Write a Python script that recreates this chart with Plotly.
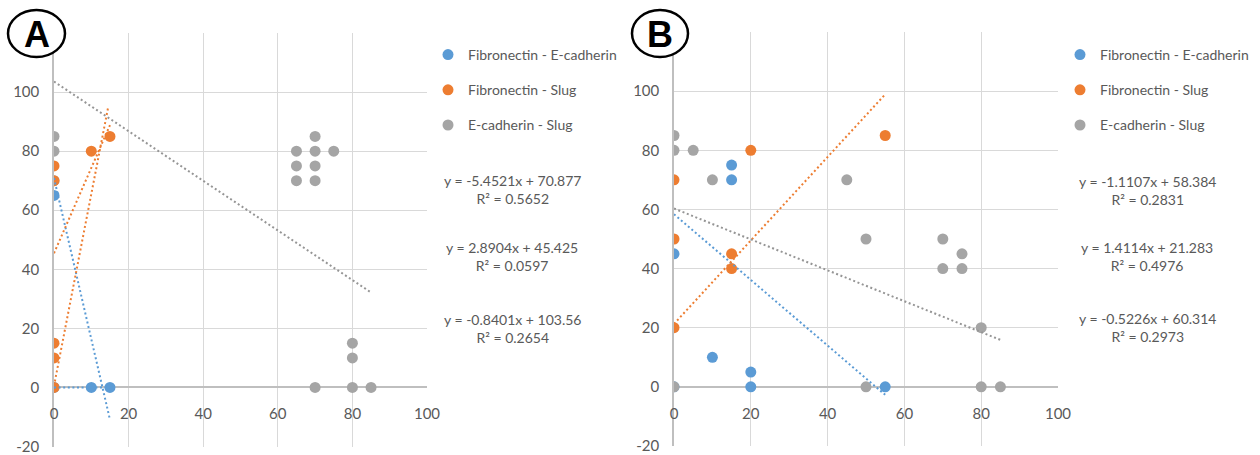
import plotly.graph_objects as go

W, H = 1260, 455

# ---------------- data ----------------
series_names = ["Fibronectin - E-cadherin", "Fibronectin - Slug", "E-cadherin - Slug"]
colors = ["#5B9BD5", "#ED7D31", "#A5A5A5"]
trend_colors = ["#5B9BD5", "#ED7D31", "#959595"]

# Panel A
a_fe_x = [0, 0, 10, 15]
a_fe_y = [65, 0, 0, 0]
a_fs_x = [0, 0, 0, 0, 0, 10, 15]
a_fs_y = [75, 70, 15, 10, 0, 80, 85]
a_es_x = [0, 0, 0, 65, 65, 65, 70, 70, 70, 70, 75, 70, 80, 80, 80, 85]
a_es_y = [85, 80, 70, 80, 75, 70, 85, 80, 75, 70, 80, 0, 15, 10, 0, 0]
a_slopes = [-5.4521, 2.8904, -0.8401]
a_intercepts = [70.877, 45.425, 103.56]
a_r2 = [0.5652, 0.0597, 0.2654]
# additional dotted lines visible in panel A (series index, slope, intercept, x span)
a_extra = [
    (0, 0.0, 0.0, 0, 15),     # blue, along y = 0
    (1, 6.5, 0.5, 0, 14.5),   # orange, steep
]

# Panel B
b_fe_x = [0, 15, 15, 0, 10, 20, 20, 55]
b_fe_y = [0, 75, 70, 45, 10, 5, 0, 0]
b_fs_x = [0, 0, 0, 15, 15, 20, 55]
b_fs_y = [70, 50, 20, 45, 40, 80, 85]
b_es_x = [0, 0, 5, 10, 45, 50, 70, 70, 75, 75, 80, 0, 50, 80, 85]
b_es_y = [85, 80, 80, 70, 70, 50, 50, 40, 45, 40, 20, 0, 0, 0, 0]
b_slopes = [-1.1107, 1.4114, -0.5226]
b_intercepts = [58.384, 21.283, 60.314]
b_r2 = [0.2831, 0.4976, 0.2973]

x_ticks = [0, 20, 40, 60, 80, 100]
x_labels = ["0", "20", "40", "60", "80", "100"]
y_ticks = [-20, 0, 20, 40, 60, 80, 100, 120]
y_labels = ["-20", "0", "20", "40", "60", "80", "100", ""]

panel_labels = ["A", "B"]

# ---------------- layout geometry (pixels) ----------------
FONT = "Lato, 'Open Sans', sans-serif"
TICKC = "#595959"

def px_x(p):
    return p / W

def px_y(p):
    return 1 - p / H

panels = [
    dict(xd=(54, 427), yd=(33, 446.5), leg=(428, 39), eqx=512, eqy=[189, 256, 328.5],
         ell=(8, 10, 65, 57)),
    dict(xd=(674, 1058), yd=(32, 446), leg=(1060, 39), eqx=1147, eqy=[190, 256.5, 327],
         ell=(632, 10, 688, 57)),
]

fig = go.Figure()

data_sets = [
    ([(a_fe_x, a_fe_y), (a_fs_x, a_fs_y), (a_es_x, a_es_y)], a_slopes, a_intercepts, a_r2, a_extra),
    ([(b_fe_x, b_fe_y), (b_fs_x, b_fs_y), (b_es_x, b_es_y)], b_slopes, b_intercepts, b_r2, []),
]

DASH = "2px,2.6px"
annotations = []
shapes = []
layout_axes = {}

for pi, (series, slopes, intercepts, r2s, extras) in enumerate(data_sets):
    xa = "x" if pi == 0 else "x2"
    ya = "y" if pi == 0 else "y2"
    leg = "legend" if pi == 0 else "legend2"
    # markers: blue, gray, orange drawing order
    order = [0, 2, 1]
    for si in order:
        xs, ys = series[si]
        fig.add_trace(go.Scatter(
            x=xs, y=ys, mode="markers", name=series_names[si],
            marker=dict(color=colors[si], size=11, line=dict(width=0)),
            xaxis=xa, yaxis=ya, legend=leg, legendgroup=f"{pi}-{si}",
            legendrank=si, showlegend=True,
        ))
    # trendlines
    for si in range(3):
        xs, _ = series[si]
        x0, x1 = min(xs), max(xs)
        fig.add_trace(go.Scatter(
            x=[x0, x1], y=[slopes[si] * x0 + intercepts[si], slopes[si] * x1 + intercepts[si]],
            mode="lines", line=dict(color=trend_colors[si], width=2, dash=DASH),
            xaxis=xa, yaxis=ya, showlegend=False, hoverinfo="skip",
        ))
    for (ci, m, b, x0, x1) in extras:
        fig.add_trace(go.Scatter(
            x=[x0, x1], y=[m * x0 + b, m * x1 + b],
            mode="lines", line=dict(color=trend_colors[ci], width=2, dash=DASH),
            xaxis=xa, yaxis=ya, showlegend=False, hoverinfo="skip",
        ))

    g = panels[pi]
    xdom = [px_x(g["xd"][0]), px_x(g["xd"][1])]
    ydom = [px_y(g["yd"][1]), px_y(g["yd"][0])]
    zero_pos = ydom[0] + (0 - y_ticks[0]) / (y_ticks[-1] - y_ticks[0]) * (ydom[1] - ydom[0])
    sfx = "" if pi == 0 else "2"
    layout_axes["xaxis" + sfx] = dict(
        domain=xdom, range=[x_ticks[0], x_ticks[-1]], tickvals=x_ticks, ticktext=x_labels,
        anchor="free", position=zero_pos, showline=False, zeroline=False,
        showgrid=True, gridcolor="#D9D9D9", gridwidth=1, automargin=False,
        ticks="outside", ticklen=13, tickcolor="rgba(0,0,0,0)", ticklabeloverflow="allow",
        tickfont=dict(family=FONT, size=15, color=TICKC),
    )
    layout_axes["yaxis" + sfx] = dict(
        domain=ydom, range=[y_ticks[0], y_ticks[-1]], tickvals=y_ticks, ticktext=y_labels,
        anchor=xa, showline=True, linecolor="#BFBFBF", linewidth=1.5,
        zeroline=True, zerolinecolor="#BFBFBF", zerolinewidth=1.5,
        showgrid=True, gridcolor="#D9D9D9", gridwidth=1, automargin=False,
        ticks="outside", ticklen=10, tickcolor="rgba(0,0,0,0)", ticklabeloverflow="allow",
        tickfont=dict(family=FONT, size=15, color=TICKC),
    )
    layout_axes[leg] = dict(
        x=px_x(g["leg"][0]), y=px_y(g["leg"][1]), xanchor="left", yanchor="top",
        font=dict(family=FONT, size=14, color=TICKC), bgcolor="rgba(0,0,0,0)",
        traceorder="grouped", tracegroupgap=14, itemclick=False,
    )
    # equations
    for k in range(3):
        eq = f"y = {slopes[k]:g}x + {intercepts[k]:g}<br>R² = {r2s[k]:.4f}"
        annotations.append(dict(
            text=eq, x=px_x(g["eqx"]), y=px_y(g["eqy"][k]), xref="paper", yref="paper",
            xanchor="center", yanchor="middle", showarrow=False, align="center",
            font=dict(family=FONT, size=14, color=TICKC),
        ))
    # panel label in ellipse
    e = g["ell"]
    shapes.append(dict(
        type="circle", xref="paper", yref="paper",
        x0=px_x(e[0]), x1=px_x(e[2]), y0=px_y(e[3]), y1=px_y(e[1]),
        line=dict(color="black", width=2.5), fillcolor="white", layer="above",
    ))
    annotations.append(dict(
        text=f"<b>{panel_labels[pi]}</b>", x=px_x((e[0] + e[2]) / 2), y=px_y((e[1] + e[3]) / 2 + 1),
        xref="paper", yref="paper", xanchor="center", yanchor="middle", showarrow=False,
        font=dict(family="Liberation Sans, Arial, sans-serif", size=36, color="black"),
    ))

fig.update_layout(
    width=W, height=H, margin=dict(l=0, r=0, t=0, b=0, autoexpand=False),
    paper_bgcolor="white", plot_bgcolor="white",
    annotations=annotations, shapes=shapes, **layout_axes,
)

fig.write_html(
    "out.html",
    config={"displayModeBar": False},
    post_script="document.body.style.margin='0';document.body.style.overflow='hidden';",
)
